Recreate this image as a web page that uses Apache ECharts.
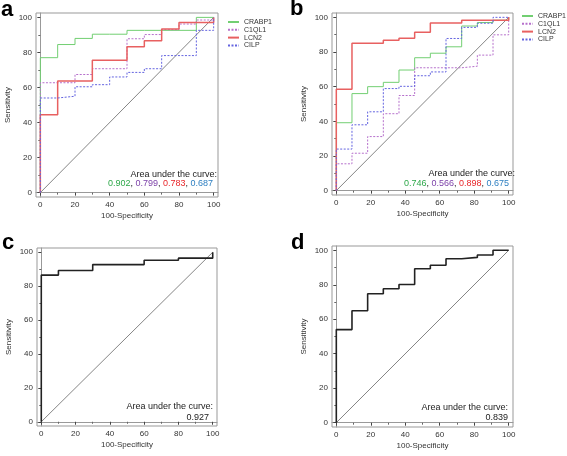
<!DOCTYPE html>
<html><head><meta charset="utf-8">
<script src="https://cdn.jsdelivr.net/npm/echarts@6/dist/echarts.min.js"></script>
<style>html,body{margin:0;padding:0;background:#fff}#c{width:567px;height:456px}</style>
</head><body><div id="c"></div>
<script>
// ---- data ----
const seriesNames = ['CRABP1', 'C1QL1', 'LCN2', 'CILP'];
// panel a: 100-specificity thresholds (10 negatives)
const fprA = [0, 10, 20, 30, 40, 50, 60, 70, 80, 90, 100];
const aCRABP1 = [77, 84.5, 88, 90.4, 90.4, 92.6, 92.6, 92.6, 92.6, 100, 100];
const aC1QL1  = [62.7, 62.7, 67.4, 70.7, 70.7, 87.8, 90.2, 93, 96.2, 98.5, 100];
const aLCN2   = [44.5, 63.7, 63.7, 75.5, 75.5, 83.2, 86.6, 93.4, 97.1, 97.1, 100];
const aCILP   = [54, 55, 60.4, 61.6, 66, 68.6, 70.7, 78.2, 78.2, 92.6, 100];
const aucA = ['0.902', '0.799', '0.783', '0.687'];
// panel b: 11 negatives
const fprB = [0, 9.09, 18.18, 27.27, 36.36, 45.45, 54.55, 63.64, 72.73, 81.82, 90.91, 100];
const bCRABP1 = [39.2, 56, 60, 62.5, 69.6, 76.7, 79.3, 83, 95, 97, 98.3, 100];
const bC1QL1  = [15.5, 21.6, 31.2, 44.4, 54.9, 70.9, 70.9, 70.9, 71.8, 78.2, 89.9, 100];
const bLCN2   = [58.5, 85, 85, 86.8, 88, 91.4, 96.7, 96.7, 98.3, 98.3, 98.3, 100];
const bCILP   = [24, 38, 45.5, 58.9, 60.2, 66.3, 68.5, 87.8, 94.2, 96.6, 100, 100];
const aucB = ['0.746', '0.566', '0.898', '0.675'];
// panel c
const fprC = [0, 10, 20, 30, 40, 50, 60, 70, 80, 90, 100];
const cSens = [86.5, 89.2, 89.2, 92.7, 92.7, 92.7, 95.3, 95.3, 96.5, 96.5, 100];
const aucC = ['0.927'];
// panel d
const fprD = [0, 9.09, 18.18, 27.27, 36.36, 45.45, 54.55, 63.64, 72.73, 81.82, 90.91, 100];
const dSens = [54, 64.9, 74.8, 77.7, 80.2, 89.3, 91.3, 95.1, 95.9, 97.3, 100, 100];
const aucD = ['0.839'];
const majorTicks = [0, 20, 40, 60, 80, 100];
const minorTicks = [10, 30, 50, 70, 90];
const diagonal = [[0, 0], [100, 100]];

// ---- styling ----
const FONT = 'Arial, "Liberation Sans", sans-serif';
const colors = {CRABP1: '#72cf72', C1QL1: '#b670cc', LCN2: '#e86060', CILP: '#6464e0'};
const aucColors = ['#2ea84a', '#7b3fa8', '#e8262a', '#2d7fc1'];
const dashes = {CRABP1: 'solid', C1QL1: [2, 1.5], LCN2: 'solid', CILP: [2, 1.5]};
const widths = {CRABP1: 1, C1QL1: 1, LCN2: 1.5, CILP: 1};

const grids = [
  {left: 36, top: 13, width: 182, height: 184},
  {left: 332, top: 13, width: 181, height: 182},
  {left: 37, top: 248, width: 180, height: 178},
  {left: 332, top: 246, width: 181, height: 181}
];

function roc(xs, ys) {
  const pts = [[0, 0]];
  xs.forEach((x, i) => pts.push([x, ys[i]]));
  return pts;
}

const xAxes = [], yAxes = [], series = [];
grids.forEach((g, i) => {
  const base = {type: 'value', min: -2.5, max: 102.5, gridIndex: i, splitLine: {show: false}};
  xAxes.push(Object.assign({}, base, {
    position: 'bottom',
    axisLine: {lineStyle: {color: '#999', width: 1}},
    axisTick: {customValues: majorTicks, length: 3, lineStyle: {color: '#444'}},
    axisLabel: {customValues: majorTicks, fontSize: 8, color: '#333', margin: 4, fontFamily: FONT},
    name: '100-Specificity', nameLocation: 'middle', nameGap: 15,
    nameTextStyle: {fontSize: 8, color: '#333', fontFamily: FONT}
  }));
  xAxes.push(Object.assign({}, base, {
    position: 'bottom', offset: 0,
    axisLine: {show: false}, axisLabel: {show: false},
    axisTick: {customValues: minorTicks, length: 2, lineStyle: {color: '#666'}}
  }));
  yAxes.push(Object.assign({}, base, {
    position: 'left',
    axisLine: {lineStyle: {color: '#999', width: 1}},
    axisTick: {customValues: majorTicks, length: 3, lineStyle: {color: '#444'}},
    axisLabel: {customValues: majorTicks, fontSize: 8, color: '#333', margin: 4, fontFamily: FONT},
    name: 'Sensitivity', nameLocation: 'middle', nameGap: 24,
    nameTextStyle: {fontSize: 8, color: '#333', fontFamily: FONT}
  }));
  yAxes.push(Object.assign({}, base, {
    position: 'left', offset: 0,
    axisLine: {show: false}, axisLabel: {show: false},
    axisTick: {customValues: minorTicks, length: 2, lineStyle: {color: '#666'}}
  }));
  series.push({
    type: 'line', xAxisIndex: 2 * i, yAxisIndex: 2 * i, data: diagonal,
    symbol: 'none', silent: true, lineStyle: {color: '#666', width: 0.8}, z: 1
  });
});

function addMulti(panel, xs, arrs) {
  seriesNames.forEach((n, k) => {
    series.push({
      name: n, type: 'line', step: 'end', xAxisIndex: 2 * panel, yAxisIndex: 2 * panel,
      data: roc(xs, arrs[k]), symbol: 'none', color: colors[n],
      lineStyle: {color: colors[n], width: widths[n], type: dashes[n]}, z: 3
    });
  });
}
addMulti(0, fprA, [aCRABP1, aC1QL1, aLCN2, aCILP]);
addMulti(1, fprB, [bCRABP1, bC1QL1, bLCN2, bCILP]);
series.push({type: 'line', step: 'end', xAxisIndex: 4, yAxisIndex: 4, data: roc(fprC, cSens),
  symbol: 'none', lineStyle: {color: '#222', width: 1.6}, z: 3});
series.push({type: 'line', step: 'end', xAxisIndex: 6, yAxisIndex: 6, data: roc(fprD, dSens),
  symbol: 'none', lineStyle: {color: '#222', width: 1.6}, z: 3});

function legendAt(left, top) {
  return {
    show: true,
    data: seriesNames, orient: 'vertical', left: left, top: top, padding: 0,
    itemWidth: 11, itemHeight: 8, itemGap: 0.8,
    itemStyle: {color: 'rgba(0,0,0,0)', borderColor: 'rgba(0,0,0,0)', borderWidth: 0},
    textStyle: {fontSize: 7, color: '#333', fontFamily: FONT},
    selectedMode: false
  };
}

function aucLines(right1, top1, right2, top2, vals, cols) {
  let rich = {n: {fontSize: 9, fontFamily: FONT, fill: '#222'}};
  let parts = [];
  vals.forEach((v, k) => {
    rich['v' + k] = {fontSize: 9, fontFamily: FONT, fill: cols[k]};
    parts.push('{v' + k + '|' + v + '}');
  });
  return [
    {type: 'text', right: right1, top: top1, z: 10,
      style: {text: 'Area under the curve:', font: '9px ' + FONT, fill: '#222'}},
    {type: 'text', right: right2, top: top2, z: 10,
      style: {text: parts.join('{n|, }'), rich: rich, font: '9px ' + FONT, fill: '#222'}}
  ];
}

function letter(t, left, top) {
  return {text: t, left: left, top: top, padding: 0,
    textStyle: {fontSize: 22, fontWeight: 'bold', color: '#000', fontFamily: FONT}};
}

const option = {
  animation: false,
  backgroundColor: '#fff',
  title: [letter('a', 1, -1), letter('b', 290, -2), letter('c', 2, 232), letter('d', 291, 232)],
  legend: [legendAt(227, 18.5), legendAt(521, 12.5)],
  grid: grids.map(g => Object.assign({show: true, borderColor: '#999', borderWidth: 1, backgroundColor: 'transparent'}, g)),
  xAxis: xAxes, yAxis: yAxes, series: series,
  graphic: [].concat(
    aucLines(567 - 217, 170, 567 - 213, 179, aucA, aucColors),
    aucLines(567 - 515, 169, 567 - 509, 179, aucB, aucColors),
    aucLines(567 - 213, 402, 567 - 209, 413, aucC, ['#222']),
    aucLines(567 - 508, 403, 567 - 508, 413, aucD, ['#222'])
  )
};
const chart = echarts.init(document.getElementById('c'), null, {renderer: 'canvas'});
chart.setOption(option);
</script></body></html>
